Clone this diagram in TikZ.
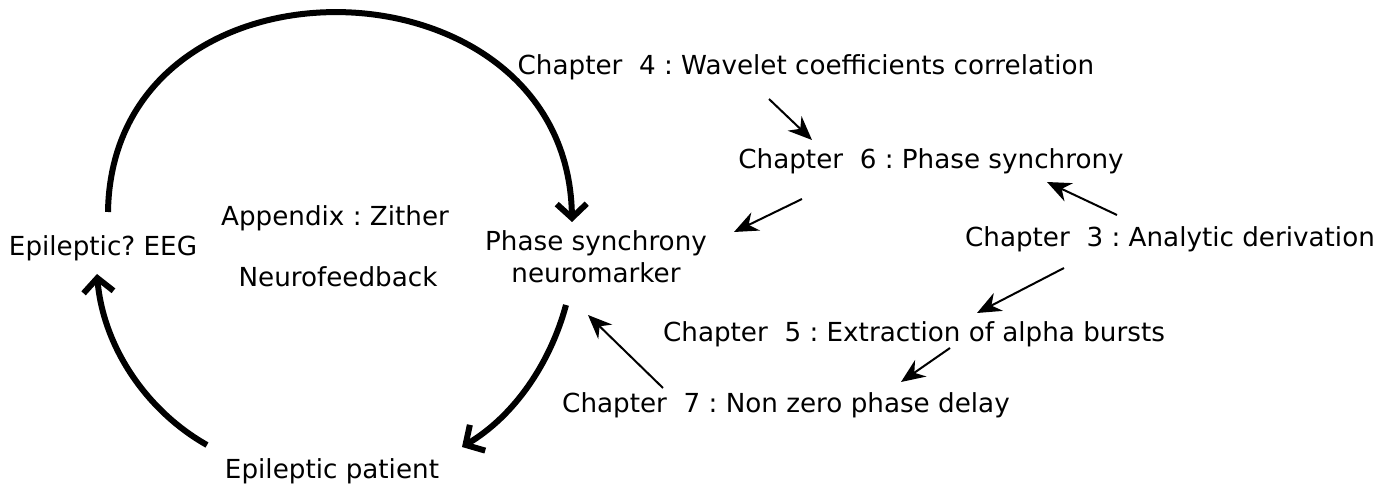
\documentclass[tikz,border=0pt]{standalone}
\usepackage{fontspec}
\setmainfont{DejaVu Sans}
\usetikzlibrary{arrows.meta}
\frenchspacing

\tikzset{
  lbl/.style={font=\fontsize{13.1}{16}\selectfont, inner sep=0pt, anchor=base},
  cyclearrow/.style={line width=3pt, -{Straight Barb[length=7pt,width=15pt]}},
  chaparrow/.style={line width=1pt, -{Stealth[length=12pt,width=10pt]}}
}

\begin{document}
\begin{tikzpicture}[x=0.5pt,y=-0.5pt]
\useasboundingbox (0,0) rectangle (1389,486);

% left part: the loop
\node[lbl] (eeg) at (103,256) {Epileptic? EEG};
\node[lbl] (zither) at (335,226) {Appendix : Zither};
\node[lbl] (neurofb) at (338,287) {Neurofeedback};
\node[lbl, anchor=center, align=center] (marker) at (596,257) {Phase synchrony\\neuromarker};
\node[lbl] (patient) at (332,479) {Epileptic patient};

% right part: the chapters
\node[lbl] (chfour) at (806,75) {Chapter\ \ 4 : Wavelet coefficients correlation};
\node[lbl] (chsix) at (931,169) {Chapter\ \ 6 : Phase synchrony};
\node[lbl] (chthree) at (1170,247) {Chapter\ \ 3 : Analytic derivation};
\node[lbl] (chfive) at (914,342) {Chapter\ \ 5 : Extraction of alpha bursts};
\node[lbl] (chseven) at (786,413) {Chapter\ \ 7 : Non zero phase delay};

\coordinate (eegtop) at (108,212);
\coordinate (eegbot) at (97,274);
\coordinate (markertop) at (572,222);
\coordinate (markerbot) at (566,305);
\coordinate (patientr) at (462,447);
\coordinate (patientl) at (207,445);

\draw[cyclearrow] (eegtop) .. controls (112,-60) and (568,-50) .. (markertop);
\draw[cyclearrow] (markerbot) .. controls (550,364) and (514,416) .. (patientr);
\draw[cyclearrow] (patientl) .. controls (145,410) and (103,345) .. (eegbot);

\coordinate (fourout) at (769,99);
\coordinate (sixin) at (812,140);
\coordinate (sixout) at (802,199);
\coordinate (markerin) at (734,232);
\coordinate (threeup) at (1117,215);
\coordinate (sixright) at (1047,182);
\coordinate (threedown) at (1064,268);
\coordinate (fivein) at (977,313);
\coordinate (fiveout) at (950,348);
\coordinate (sevenin) at (901,382);
\coordinate (sevenout) at (663,388);
\coordinate (markerlow) at (588,315);

\draw[chaparrow] (fourout) -- (sixin);
\draw[chaparrow] (sixout) -- (markerin);
\draw[chaparrow] (threeup) -- (sixright);
\draw[chaparrow] (threedown) -- (fivein);
\draw[chaparrow] (fiveout) -- (sevenin);
\draw[chaparrow] (sevenout) -- (markerlow);
\end{tikzpicture}
\end{document}
